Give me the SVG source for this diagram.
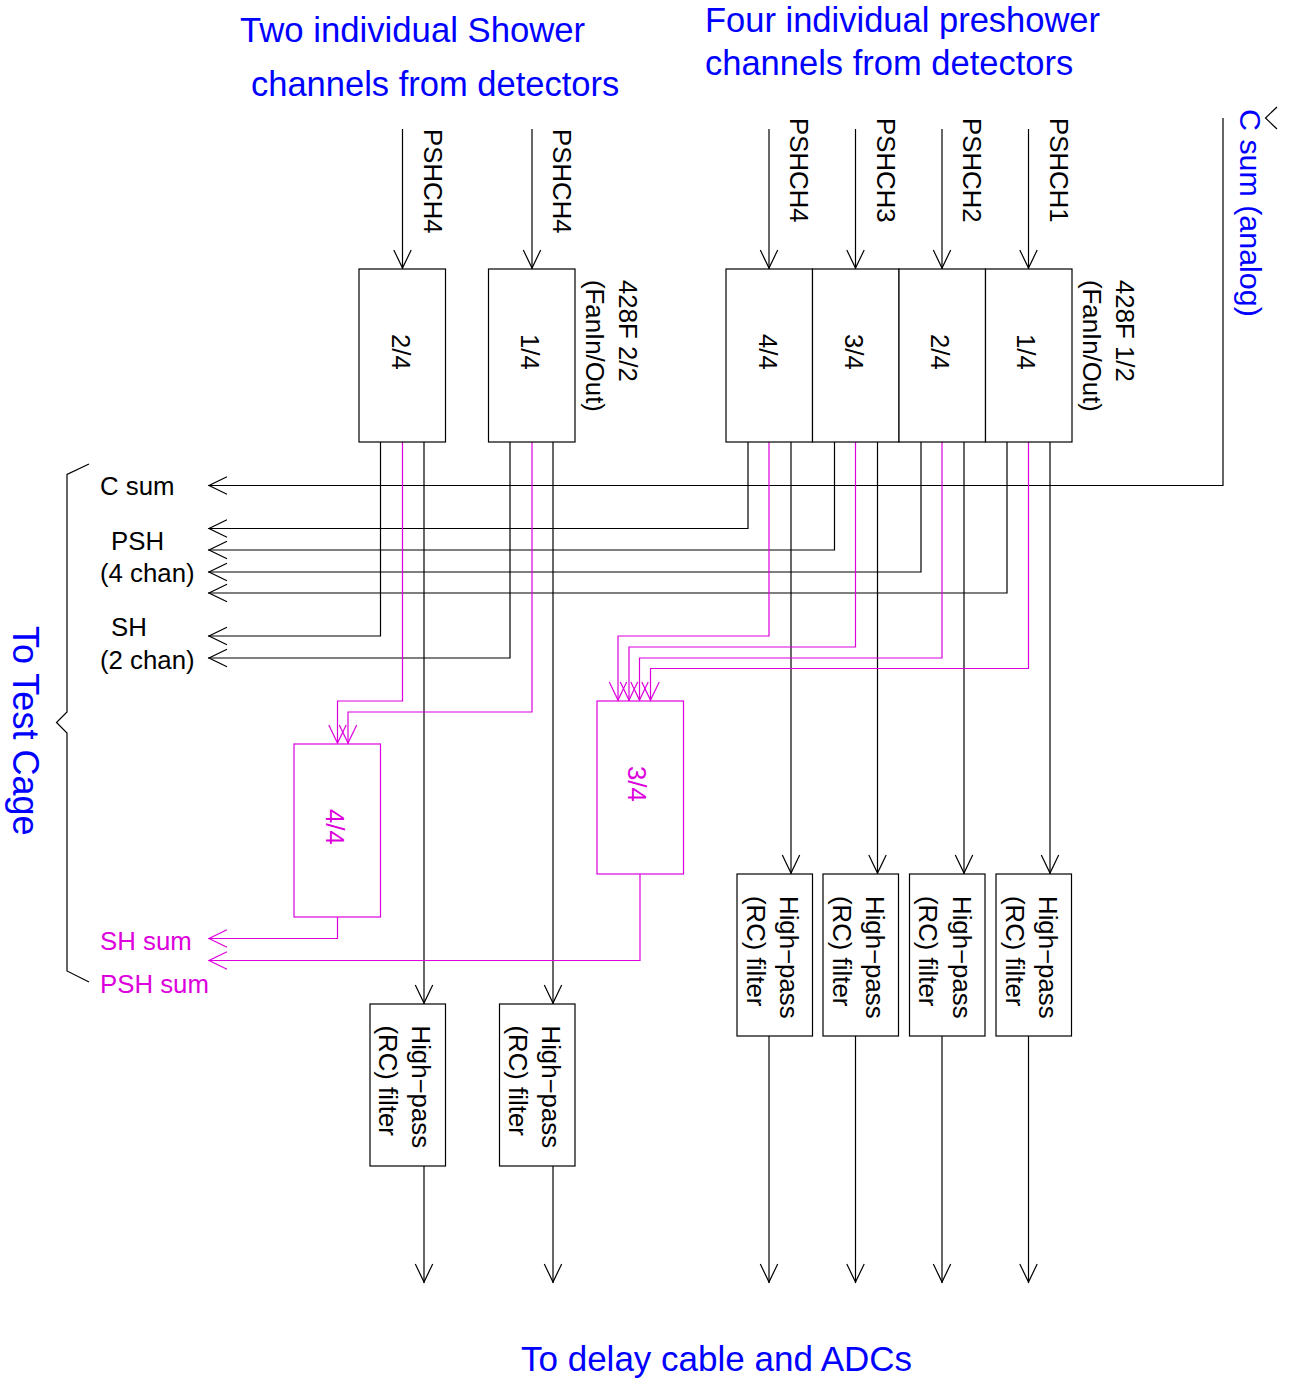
<svg xmlns="http://www.w3.org/2000/svg" width="1293" height="1378" viewBox="0 0 1293 1378">
<style>
text{font-family:"Liberation Sans",Arial,sans-serif;font-size:25.8px;fill:#000}
.b{fill:#0000ff;font-size:34.5px}
.m{fill:#dd00dd}
.box{fill:#fff;stroke:#000;stroke-width:1.2}
.mbox{fill:#fff;stroke:#dd00dd;stroke-width:1.2}
.c{fill:none;stroke:#000;stroke-width:1.2;marker-end:url(#a)}
.cm{fill:none;stroke:#dd00dd;stroke-width:1.2;marker-end:url(#am)}
.p{fill:none;stroke:#000;stroke-width:1.2}
</style>
<defs>
<marker id="a" markerUnits="userSpaceOnUse" markerWidth="22" markerHeight="22" refX="20" refY="10" orient="auto"><path d="M1,1.3L19,10L1,18.7" fill="none" stroke="#000" stroke-width="1.2"/></marker>
<marker id="am" markerUnits="userSpaceOnUse" markerWidth="22" markerHeight="22" refX="20" refY="10" orient="auto"><path d="M1,1.3L19,10L1,18.7" fill="none" stroke="#dd00dd" stroke-width="1.2"/></marker>
</defs>
<g id="connectors">
<path class="c" d="M402.5,129V269"/><path class="c" d="M532,129V269"/>
<path class="c" d="M769,129V269"/><path class="c" d="M855.5,129V269"/><path class="c" d="M942,129V269"/><path class="c" d="M1028.5,129V269"/>
<path class="c" d="M1223,118V485.5H208"/>
<path class="c" d="M748,442V528.500H208"/><path class="c" d="M834.5,442V550H208"/><path class="c" d="M921,442V572H208"/><path class="c" d="M1007,442V593H208"/>
<path class="c" d="M380.500,442V636H208"/><path class="c" d="M510,442V658H208"/>
<path class="c" d="M424,442V1004"/><path class="c" d="M553,442V1004"/>
<path class="c" d="M791,442V874"/><path class="c" d="M877.5,442V874"/><path class="c" d="M964,442V874"/><path class="c" d="M1050,442V874"/>
<path class="c" d="M424,1166V1283"/><path class="c" d="M553,1166V1283"/>
<path class="c" d="M769,1036V1283"/><path class="c" d="M855.5,1036V1283"/><path class="c" d="M942,1036V1283"/><path class="c" d="M1028.5,1036V1283"/>
<path class="cm" d="M402.5,442V701H337.500V744"/><path class="cm" d="M532,442V712H348V744"/>
<path class="cm" d="M769,442V636H618V701"/><path class="cm" d="M855.5,442V647H629V701"/><path class="cm" d="M942,442V658H639.500V701"/><path class="cm" d="M1028.5,442V668.500H650.500V701"/>
<path class="cm" d="M337.5,917V938.500H208"/><path class="cm" d="M640,874V960.500H208"/>
<path class="p" d="M89,464L67,474.500V712L56.500,722.500L67,733V971L89,982"/>
<path class="p" d="M1277,107L1265.500,118L1277,129"/>
</g>
<g id="fanout-2-4"><rect class="box" x="359" y="269" width="86.500" height="173"/><text transform="translate(392,334) rotate(90)">2/4</text></g>
<g id="fanout-1-4b"><rect class="box" x="488.500" y="269" width="86.500" height="173"/><text transform="translate(521,334) rotate(90)">1/4</text></g>
<g id="fanin-label-2"><text transform="translate(619,280) rotate(90)">428F 2/2</text><text transform="translate(586,280) rotate(90)">(FanIn/Out)</text></g>
<g id="fan-4-4"><rect class="box" x="726" y="269" width="86.500" height="173"/><text transform="translate(759,334) rotate(90)">4/4</text></g>
<g id="fan-3-4"><rect class="box" x="812.500" y="269" width="86.500" height="173"/><text transform="translate(845,334) rotate(90)">3/4</text></g>
<g id="fan-2-4"><rect class="box" x="899" y="269" width="86.500" height="173"/><text transform="translate(931,334) rotate(90)">2/4</text></g>
<g id="fan-1-4"><rect class="box" x="985.500" y="269" width="86.500" height="173"/><text transform="translate(1017,334) rotate(90)">1/4</text></g>
<g id="fanin-label-1"><text transform="translate(1116,280) rotate(90)">428F 1/2</text><text transform="translate(1083,280) rotate(90)">(FanIn/Out)</text></g>
<g id="sum-sh"><rect class="mbox" x="294" y="744" width="86.500" height="173"/><text class="m" transform="translate(326,809) rotate(90)">4/4</text></g>
<g id="sum-psh"><rect class="mbox" x="597" y="701" width="86.500" height="173"/><text class="m" transform="translate(628,766) rotate(90)">3/4</text></g>
<g id="hp1"><rect class="box" x="370" y="1004" width="75.500" height="162"/><text transform="translate(412,1025.500) rotate(90)">High−pass</text><text transform="translate(379,1025.500) rotate(90)">(RC) filter</text></g>
<g id="hp2"><rect class="box" x="499.500" y="1004" width="75.500" height="162"/><text transform="translate(542,1025.500) rotate(90)">High−pass</text><text transform="translate(509,1025.500) rotate(90)">(RC) filter</text></g>
<g id="hp3"><rect class="box" x="737" y="874" width="75.500" height="162"/><text transform="translate(780,896) rotate(90)">High−pass</text><text transform="translate(747,896) rotate(90)">(RC) filter</text></g>
<g id="hp4"><rect class="box" x="823" y="874" width="75.500" height="162"/><text transform="translate(866,896) rotate(90)">High−pass</text><text transform="translate(833,896) rotate(90)">(RC) filter</text></g>
<g id="hp5"><rect class="box" x="909.500" y="874" width="75.500" height="162"/><text transform="translate(953,896) rotate(90)">High−pass</text><text transform="translate(919,896) rotate(90)">(RC) filter</text></g>
<g id="hp6"><rect class="box" x="996" y="874" width="75.500" height="162"/><text transform="translate(1039,896) rotate(90)">High−pass</text><text transform="translate(1006,896) rotate(90)">(RC) filter</text></g>
<g id="labels">
<text transform="translate(424,129) rotate(90)">PSHCH4</text>
<text transform="translate(553,129) rotate(90)">PSHCH4</text>
<text transform="translate(790,118) rotate(90)">PSHCH4</text>
<text transform="translate(877,118) rotate(90)">PSHCH3</text>
<text transform="translate(963,118) rotate(90)">PSHCH2</text>
<text transform="translate(1050,118) rotate(90)">PSHCH1</text>
<text x="100" y="495">C sum</text>
<text x="111" y="550">PSH</text>
<text x="100" y="582">(4 chan)</text>
<text x="111" y="636">SH</text>
<text x="100" y="669">(2 chan)</text>
<text class="m" x="100" y="950">SH sum</text>
<text class="m" x="100" y="993">PSH sum</text>
<text class="b" style="font-size:34.7px" x="240" y="42">Two individual Shower</text>
<text class="b" x="251" y="96">channels from detectors</text>
<text class="b" x="705" y="32">Four individual preshower</text>
<text class="b" x="705" y="75">channels from detectors</text>
<text class="b" style="font-size:30.4px" transform="translate(1240,109) rotate(90)">C sum (analog)</text>
<text class="b" style="font-size:36px" transform="translate(13,626) rotate(90)">To Test Cage</text>
<text class="b" style="font-size:35px" x="521" y="1371">To delay cable and ADCs</text>
</g>
</svg>
